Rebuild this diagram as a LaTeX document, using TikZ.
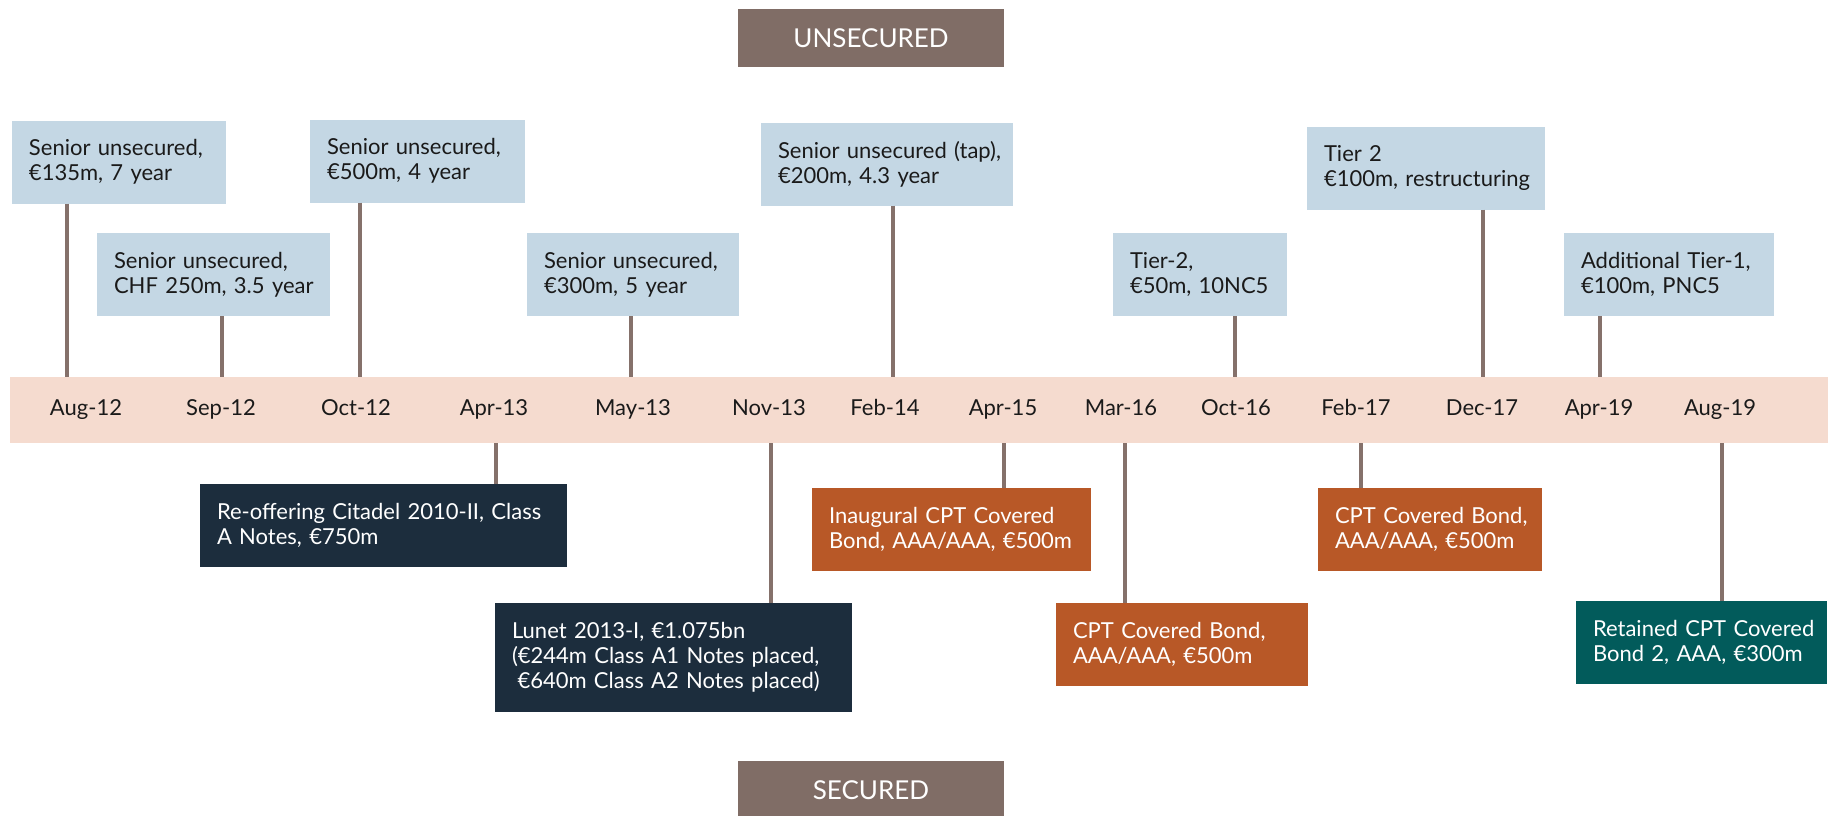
\documentclass[tikz,border=0pt]{standalone}
\usepackage{fontspec}
\setmainfont{Lato}
\usetikzlibrary{positioning}

\definecolor{unsecblue}{HTML}{C4D7E4}
\definecolor{rmbsnavy}{HTML}{1C2D3D}
\definecolor{coveredorange}{HTML}{B85827}
\definecolor{retainedteal}{HTML}{025B5B}
\definecolor{headerbrown}{HTML}{806D66}
\definecolor{bandpeach}{HTML}{F5DBCF}
\definecolor{stembrown}{HTML}{85716B}
\definecolor{inkblack}{HTML}{1A1A1A}

\begin{document}
\begin{tikzpicture}[
    x=1pt, y=-1pt,
    every node/.style={inner sep=0pt, outer sep=0pt},
    deal_block/.style={
            rectangle,
            align=left,
            minimum height=83,
            font=\fontsize{22}{25}\selectfont,
            execute at begin node={\leftskip=17pt\hyphenpenalty=10000\exhyphenpenalty=10000}
        },
    unsec_block/.style={deal_block, fill=unsecblue, text=inkblack},
    rmbs_block/.style={deal_block, fill=rmbsnavy, text=white},
    covered_block/.style={deal_block, fill=coveredorange, text=white},
    retained_block/.style={deal_block, fill=retainedteal, text=white},
    header_block/.style={
            fill=headerbrown,
            text=white,
            minimum width=266,
            minimum height=58,
            font=\fontsize{26}{30}\selectfont
        },
    date_label/.style={anchor=base, text=inkblack, font=\fontsize{22}{25}\selectfont},
    stem_line/.style={draw=stembrown, line width=4pt}
    ]

    \useasboundingbox (0,0) rectangle (1830,816);

    % --- Headers ---
    \node[header_block] (unsecured) at (871,38) {UNSECURED};
    \node[header_block] (secured) at (871,790) {SECURED};

    % --- Timeline band ---
    \node[fill=bandpeach, minimum width=1818, minimum height=66] (timeline) at (919,410) {};

    \node[date_label] (d_aug12) at (86,415) {Aug-12};
    \node[date_label] (d_sep12) at (221,415) {Sep-12};
    \node[date_label] (d_oct12) at (356,415) {Oct-12};
    \node[date_label] (d_apr13) at (494,415) {Apr-13};
    \node[date_label] (d_may13) at (633,415) {May-13};
    \node[date_label] (d_nov13) at (769,415) {Nov-13};
    \node[date_label] (d_feb14) at (885,415) {Feb-14};
    \node[date_label] (d_apr15) at (1003,415) {Apr-15};
    \node[date_label] (d_mar16) at (1121,415) {Mar-16};
    \node[date_label] (d_oct16) at (1236,415) {Oct-16};
    \node[date_label] (d_feb17) at (1356,415) {Feb-17};
    \node[date_label] (d_dec17) at (1482,415) {Dec-17};
    \node[date_label] (d_apr19) at (1599,415) {Apr-19};
    \node[date_label] (d_aug19) at (1720,415) {Aug-19};

    % --- Unsecured deals ---
    \node[unsec_block, text width=214] (unsec_aug12) at (119,162)
        {Senior unsecured,\\€135m, 7 year};
    \node[unsec_block, text width=233] (unsec_sep12) at (213.5,274.5)
        {Senior unsecured,\\CHF 250m, 3.5 year};
    \node[unsec_block, text width=215] (unsec_oct12) at (417.5,161)
        {Senior unsecured,\\€500m, 4 year};
    \node[unsec_block, text width=212] (unsec_may13) at (633,274.5)
        {Senior unsecured,\\€300m, 5 year};
    \node[unsec_block, text width=252] (unsec_feb14) at (887,164)
        {Senior unsecured (tap),\\€200m, 4.3 year};
    \node[unsec_block, text width=174] (unsec_oct16) at (1200,274.5)
        {Tier-2,\\€50m, 10NC5};
    \node[unsec_block, text width=238] (unsec_dec17) at (1426,168)
        {Tier 2\\€100m, restructuring};
    \node[unsec_block, text width=210] (unsec_apr19) at (1669,274.5)
        {Additional Tier-1,\\€100m, PNC5};

    % --- Secured deals ---
    \node[rmbs_block, text width=367] (sec_apr13) at (383.5,525.5)
        {Re-offering Citadel 2010-II, Class\\A Notes, €750m};
    \node[rmbs_block, text width=357, minimum height=109] (sec_nov13) at (673.5,657.5)
        {Lunet 2013-I, €1.075bn\\(€244m Class A1 Notes placed,\\\hspace*{0.25em}€640m Class A2 Notes placed)};
    \node[covered_block, text width=279] (sec_apr15) at (951.5,529.5)
        {Inaugural CPT Covered\\Bond, AAA/AAA, €500m};
    \node[covered_block, text width=252] (sec_mar16) at (1182,644.5)
        {CPT Covered Bond,\\AAA/AAA, €500m};
    \node[covered_block, text width=224] (sec_feb17) at (1430,529.5)
        {CPT Covered Bond,\\AAA/AAA, €500m};
    \node[retained_block, text width=251] (sec_aug19) at (1701.5,642.5)
        {Retained CPT Covered\\Bond 2, AAA, €300m};

    % --- Stems ---
    \draw[stem_line] (unsec_aug12.south -| 67,0) -- (timeline.north -| 67,0);
    \draw[stem_line] (unsec_sep12.south -| 222,0) -- (timeline.north -| 222,0);
    \draw[stem_line] (unsec_oct12.south -| 360,0) -- (timeline.north -| 360,0);
    \draw[stem_line] (unsec_may13.south -| 631,0) -- (timeline.north -| 631,0);
    \draw[stem_line] (unsec_feb14.south -| 893,0) -- (timeline.north -| 893,0);
    \draw[stem_line] (unsec_oct16.south -| 1235,0) -- (timeline.north -| 1235,0);
    \draw[stem_line] (unsec_dec17.south -| 1483,0) -- (timeline.north -| 1483,0);
    \draw[stem_line] (unsec_apr19.south -| 1600,0) -- (timeline.north -| 1600,0);

    \draw[stem_line] (timeline.south -| 496,0) -- (sec_apr13.north -| 496,0);
    \draw[stem_line] (timeline.south -| 771,0) -- (sec_nov13.north -| 771,0);
    \draw[stem_line] (timeline.south -| 1004,0) -- (sec_apr15.north -| 1004,0);
    \draw[stem_line] (timeline.south -| 1125,0) -- (sec_mar16.north -| 1125,0);
    \draw[stem_line] (timeline.south -| 1361,0) -- (sec_feb17.north -| 1361,0);
    \draw[stem_line] (timeline.south -| 1722,0) -- (sec_aug19.north -| 1722,0);

\end{tikzpicture}
\end{document}
